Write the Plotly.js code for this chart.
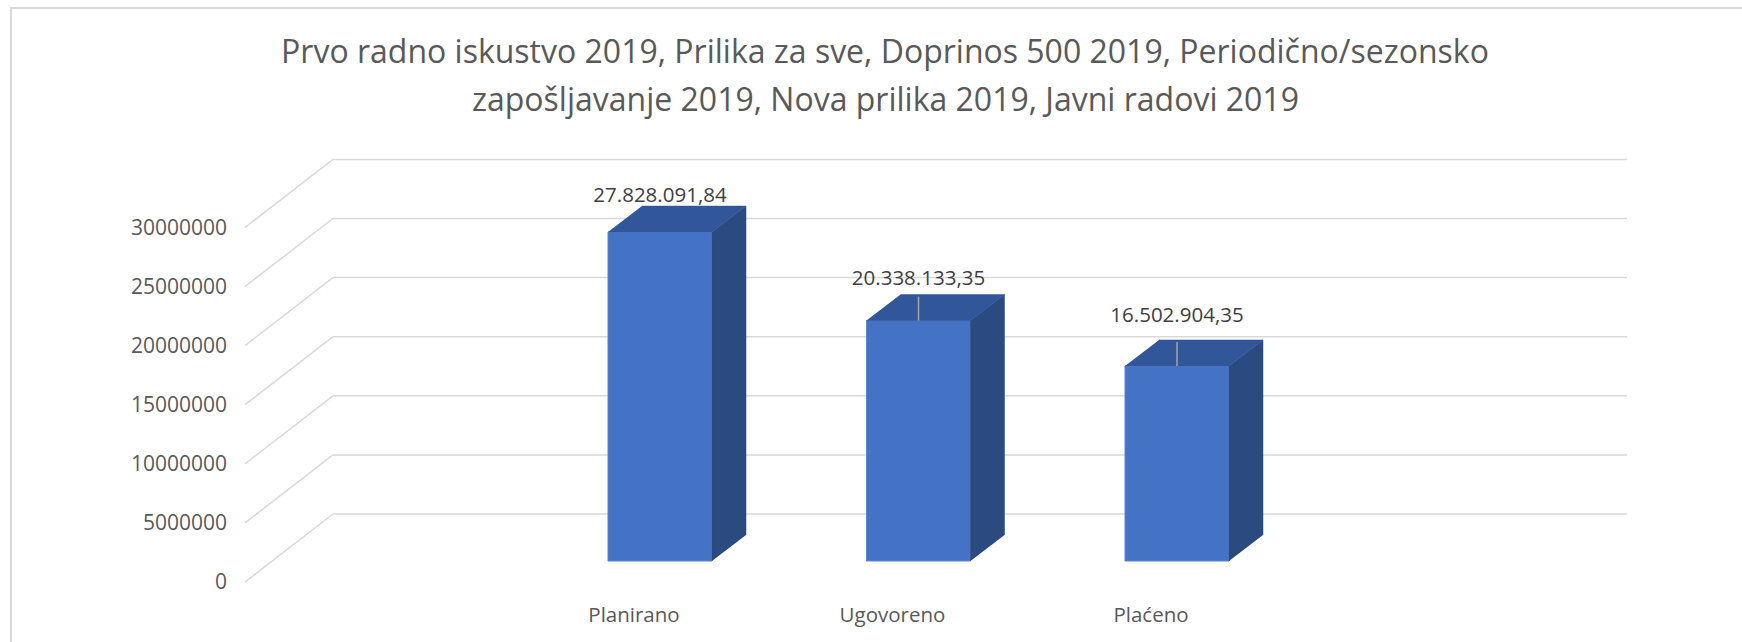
<!DOCTYPE html>
<html>
<head>
<meta charset="utf-8">
<script src="https://cdn.plot.ly/plotly-3.0.1.min.js"></script>
<style>html,body{margin:0;padding:0;background:#fff;}#chart{width:1742px;height:642px;}</style>
</head>
<body>
<div id="chart"></div>
<script>
// ---------- data ----------
const titleLines = ['Prvo radno iskustvo 2019, Prilika za sve, Doprinos 500 2019, Periodično/sezonsko',
                    'zapošljavanje 2019, Nova prilika 2019, Javni radovi 2019'];
const categories = ['Planirano', 'Ugovoreno', 'Plaćeno'];
const values = [27828091.84, 20338133.35, 16502904.35];
const valueLabels = ['27.828.091,84', '20.338.133,35', '16.502.904,35'];
const yTickVals = [0, 5000000, 10000000, 15000000, 20000000, 25000000, 30000000];
const yTickText = ['0', '5000000', '10000000', '15000000', '20000000', '25000000', '30000000'];

// ---------- geometry (pixels) ----------
const W = 1742, H = 642;
const M = {l: 228, r: 100, t: 140, b: 42};
const pxPerCat = 258.5;          // horizontal pixels per category
const pxPerUnit = 11.82e-6;      // vertical pixels per value unit
const cat0Px = 660;              // pixel x of first bar centre
const base0Px = 561;             // pixel y of bar base (value 0)
const X = dpx => dpx / pxPerCat;
const Y = dpx => dpx / pxPerUnit;
const xPx = px => (px - cat0Px) / pxPerCat;
const yPx = py => (base0Px - py) / pxPerUnit;

const xRange = [xPx(M.l), xPx(W - M.r)];
const yRange = [yPx(H - M.b), yPx(M.t)];

const barW = X(104);
const depthX = X(34), depthY = Y(26);
const backOff = Y(47), frontOff = -Y(21);
const wallLeft = xPx(333), wallRight = xPx(1627), floorFront = xPx(245);
const labelLift = [35, 41, 49];
const leaderLen = 24;
const showLeader = [false, true, true];
const catLabelShift = X(26);
const titleCx = 885, titleY1 = 52, titleY2 = 98;

const cBar = '#4472C4', cTop = '#31569A', cSide = '#2B4A80', cGrid = '#D9D9D9', cText = '#595959';
const font = 'Open Sans, Noto Sans, sans-serif';

// ---------- gridlines as shapes (below traces) ----------
const shapes = [];
yTickVals.forEach(v => {
  shapes.push({type: 'line', xref: 'x', yref: 'y', layer: 'below',
    x0: floorFront, y0: v + frontOff, x1: wallLeft, y1: v + backOff,
    line: {color: cGrid, width: 1.5}});
  shapes.push({type: 'line', xref: 'x', yref: 'y', layer: 'below',
    x0: wallLeft, y0: v + backOff, x1: wallRight, y1: v + backOff,
    line: {color: cGrid, width: 1.5}});
});
// chart border
const pw = W - M.l - M.r, ph = H - M.t - M.b;
shapes.push({type: 'rect', xref: 'paper', yref: 'paper', layer: 'below',
  x0: (11 - M.l) / pw, x1: (W + 10 - M.l) / pw,
  y0: (H - M.b - (H + 10)) / ph, y1: (H - M.b - 8) / ph,
  line: {color: cGrid, width: 2}, fillcolor: 'rgba(0,0,0,0)'});

// ---------- 3D faces ----------
const idx = categories.map((c, i) => i);
const sideX = [], sideY = [], topX = [], topY = [];
idx.forEach(i => {
  const v = values[i], r = i + barW / 2, l = i - barW / 2;
  sideX.push(r, r, r + depthX, r + depthX, null);
  sideY.push(0, v, v + depthY, depthY, null);
  topX.push(l, r, r + depthX, l + depthX, null);
  topY.push(v, v, v + depthY, v + depthY, null);
});
const leadX = [], leadY = [];
idx.forEach(i => {
  if (showLeader[i]) { leadX.push(i, i, null); leadY.push(values[i], values[i] + Y(leaderLen), null); }
});

const traces = [
  {type: 'bar', x: idx, y: values, width: barW, marker: {color: cBar, line: {color: '#5B87D3', width: 1}},
   hoverinfo: 'skip', showlegend: false},
  {type: 'scatter', mode: 'lines', x: sideX, y: sideY, fill: 'toself', fillcolor: cSide,
   line: {color: cSide, width: 0.5}, hoverinfo: 'skip', showlegend: false},
  {type: 'scatter', mode: 'lines', x: topX, y: topY, fill: 'toself', fillcolor: cTop,
   line: {color: cTop, width: 0.5}, hoverinfo: 'skip', showlegend: false},
  {type: 'scatter', mode: 'lines', x: leadX, y: leadY, line: {color: '#A6A6A6', width: 1.5},
   hoverinfo: 'skip', showlegend: false},
  {type: 'scatter', mode: 'text', x: idx, y: idx.map(i => values[i] + Y(labelLift[i])), text: valueLabels,
   textposition: 'middle center', textfont: {family: font, size: 20.5, color: '#404040'},
   cliponaxis: false, hoverinfo: 'skip', showlegend: false},
  {type: 'scatter', mode: 'markers', x: [0], y: [0], yaxis: 'y2', marker: {opacity: 0}, hoverinfo: 'skip', showlegend: false}
];

const layout = {
  width: W, height: H,
  margin: M,
  paper_bgcolor: '#fff', plot_bgcolor: 'rgba(0,0,0,0)',
  showlegend: false,
  title: {text: titleLines[0], x: titleCx / W, xanchor: 'center', xref: 'container',
          y: 1 - titleY1 / H, yanchor: 'middle', yref: 'container',
          font: {family: font, size: 32, color: cText}},
  annotations: [{text: titleLines[1], xref: 'paper', yref: 'paper', showarrow: false,
          x: (titleCx - M.l) / pw, xanchor: 'center', y: (H - M.b - titleY2) / ph, yanchor: 'middle',
          font: {family: font, size: 32, color: cText}}],
  xaxis: {range: xRange, showgrid: false, zeroline: false, showline: false, fixedrange: true,
          tickmode: 'array', tickvals: idx.map(i => i - catLabelShift), ticktext: categories,
          ticks: '', tickfont: {family: font, size: 20.5, color: cText}},
  yaxis: {range: yRange, showgrid: false, zeroline: false, showline: false, showticklabels: false, fixedrange: true},
  yaxis2: {range: [yRange[0] - frontOff, yRange[1] - frontOff], overlaying: 'y', side: 'left', anchor: 'x',
           showgrid: false, zeroline: false, showline: false, fixedrange: true,
           tickmode: 'array', tickvals: yTickVals, ticktext: yTickText, ticks: '',
           tickfont: {family: font, size: 21, color: cText}},
  shapes: shapes
};

Plotly.newPlot('chart', traces, layout, {displayModeBar: false, staticPlot: true});
</script>
</body>
</html>
